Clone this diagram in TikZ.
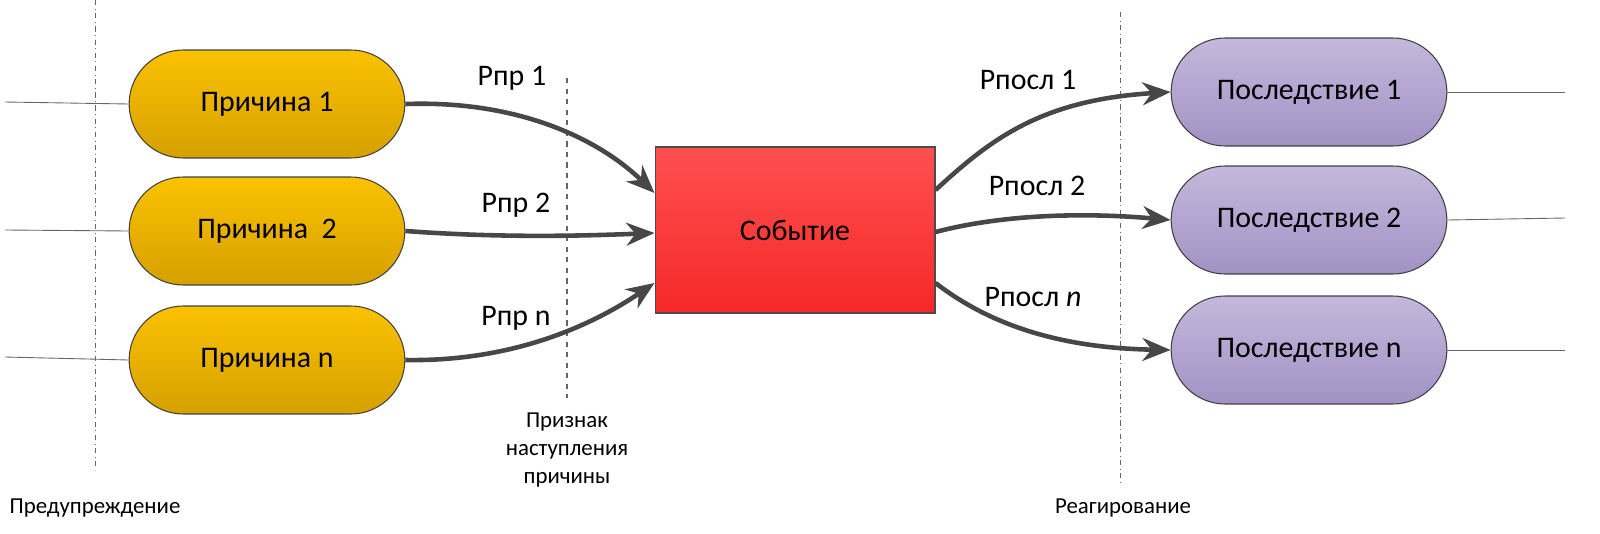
\documentclass[tikz,border=0pt]{standalone}
\usepackage{fontspec}
\setmainfont{Carlito}
\usetikzlibrary{arrows.meta,shapes.misc}
\begin{document}
\begin{tikzpicture}[x=0.02cm,y=-0.02cm,
 cause/.style={rounded rectangle,draw=black!75,line width=0.6pt,minimum width=5.75cm,minimum height=2.16cm,font=\fontsize{17}{20}\selectfont},
 causec/.style={cause,top color={rgb,255:red,250;green,194;blue,0},bottom color={rgb,255:red,214;green,160;blue,0}},
 conseq/.style={cause,top color={rgb,255:red,196;green,184;blue,220},bottom color={rgb,255:red,162;green,146;blue,196}},
 arr/.style={line width=2.6pt,draw=black!72,-{Stealth[length=16pt,width=13pt]}},
 lbl/.style={font=\fontsize{17}{20}\selectfont},
 small/.style={font=\fontsize{13}{16}\selectfont,align=center},
 thin/.style={draw=black!60,line width=0.5pt}]
\useasboundingbox (0,0) rectangle (1600,534);
\draw[thin,dash dot] (95,0) -- (95,470);
\draw[thin,dash dot] (1120,12) -- (1120,485);
\draw[thin,dashed,line width=0.8pt] (567,78) -- (567,398);
\node[causec] (c1) at (267,104) {Причина 1};
\node[causec] (c2) at (267,231) {Причина\ \ 2};
\node[causec] (c3) at (267,360) {Причина n};
\node[conseq] (p1) at (1309,92) {Последствие 1};
\node[conseq] (p2) at (1309,220) {Последствие 2};
\node[conseq] (p3) at (1309,350) {Последствие n};
\node[draw=black!70,line width=0.6pt,minimum width=5.6cm,minimum height=3.32cm,top color={rgb,255:red,255;green,80;blue,80},bottom color={rgb,255:red,245;green,40;blue,40},font=\fontsize{17}{20}\selectfont] (ev) at (795,230) {Событие};
\coordinate (l1) at (5,102); \coordinate (l2) at (5,230); \coordinate (l3) at (5,357);
\coordinate (r1) at (1565,92); \coordinate (r2) at (1565,218); \coordinate (r3) at (1565,350);
\draw[thin] (l1) -- (c1.west); \draw[thin] (l2) -- (c2.west); \draw[thin] (l3) -- (c3.west);
\draw[thin] (p1.east) -- (r1); \draw[thin] (p2.east) -- (r2); \draw[thin] (p3.east) -- (r3);
\draw[arr] (c1.east) .. controls (520,100) and (600,140) .. (ev.west |- 0,193);
\draw[arr] (c2.east) .. controls (500,238) and (580,236) .. (ev.west |- 0,233);
\draw[arr] (c3.east) .. controls (520,362) and (600,320) .. (ev.west |- 0,283);
\draw[arr] (ev.east |- 0,190) .. controls (990,140) and (1040,100) .. (p1.west);
\draw[arr] (ev.east |- 0,232) .. controls (1000,215) and (1080,212) .. (p2.west);
\draw[arr] (ev.east |- 0,283) .. controls (990,325) and (1060,348) .. (p3.west);
\node[lbl] (t1) at (512,78) {Рпр 1};
\node[lbl] (t2) at (516,205) {Рпр 2};
\node[lbl] (t3) at (516,318) {Рпр n};
\node[lbl] (t4) at (1028,80) {Рпосл 1};
\node[lbl] (t5) at (1037,186) {Рпосл 2};
\node[lbl] (t6) at (1033,297) {Рпосл \textit{n}};
\node[small] (s1) at (95,508) {Предупреждение};
\node[small] (s2) at (567,450) {Признак\\наступления\\причины};
\node[small] (s3) at (1123,508) {Реагирование};
\end{tikzpicture}
\end{document}
